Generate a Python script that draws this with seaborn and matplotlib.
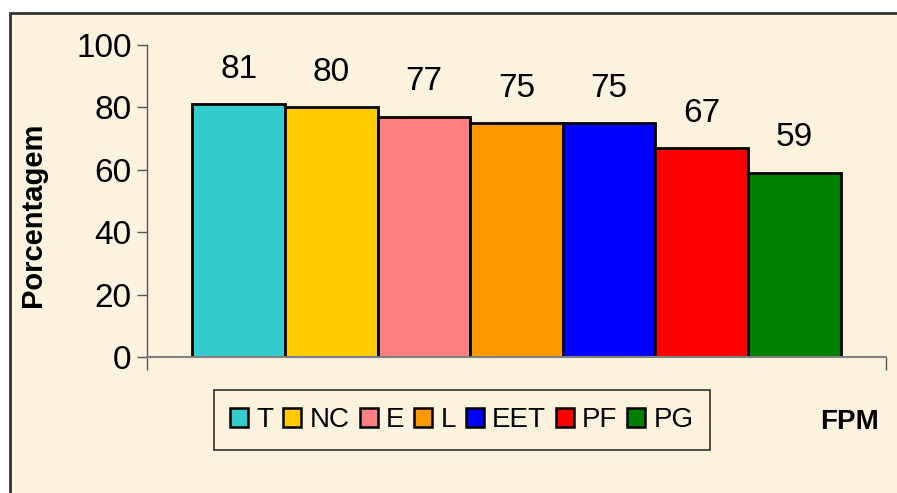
import matplotlib
matplotlib.use("Agg")
import matplotlib.pyplot as plt
from matplotlib.patches import Rectangle, Patch
import seaborn as sns

# dados
grupos = ["T", "NC", "E", "L", "EET", "PF", "PG"]
valores = [81, 80, 77, 75, 75, 67, 59]
cores = ["#33CCCC", "#FFCC00", "#FF8080", "#FF9900", "#0000FF", "#FF0000", "#008000"]
y_ticks = [0, 20, 40, 60, 80, 100]

sns.set_style("white")
plt.rcParams["font.family"] = ["Liberation Sans", "DejaVu Sans"]
plt.rcParams["text.color"] = "black"
plt.rcParams["axes.labelcolor"] = "black"
plt.rcParams["ytick.color"] = "black"
plt.rcParams["xtick.color"] = "black"

fundo = "#FCF2DE"

fig = plt.figure(figsize=(8.97, 4.93), dpi=100)
fig.patch.set_facecolor("white")
# moldura do grafico (cortada a direita e embaixo)
fig.patches.append(Rectangle((10 / 897, -0.02), 1.05, 1 - 13 / 493 + 0.02,
                             transform=fig.transFigure, facecolor=fundo,
                             edgecolor="#333333", linewidth=2, zorder=-10))

ax = fig.add_axes([147 / 897, 1 - 357 / 493, (886 - 147) / 897, (357 - 45) / 493])
ax.set_facecolor("none")

sns.barplot(x=grupos, y=valores, hue=grupos, palette=cores, width=1.0, saturation=1,
            edgecolor="black", linewidth=2, legend=False, ax=ax)

for c in ax.containers:
    ax.bar_label(c, fontsize=24, padding=14)

ax.set_xlim(-0.99, 6.99)
ax.set_ylim(0, 100)
ax.set_yticks(y_ticks)
ax.set_yticklabels([str(v) for v in y_ticks], fontsize=24)
ax.set_xticks([-0.99, 6.99])
ax.set_xticklabels(["", ""])
ax.tick_params(axis="y", direction="out", length=7, width=1, color="#555555", left=True, pad=4)
ax.tick_params(axis="x", direction="out", length=9, width=1, color="#555555", bottom=True)
ax.set_xlabel("")
ax.set_ylabel("Porcentagem", fontsize=21, fontweight="bold")
ax.yaxis.set_label_coords(-0.135, 0.457)

for s in ["top", "right"]:
    ax.spines[s].set_visible(False)
ax.spines["left"].set_color("#555555")
ax.spines["bottom"].set_color("#808080")
ax.spines["left"].set_linewidth(1)
ax.spines["bottom"].set_linewidth(1.5)

handles = [Patch(facecolor=c, edgecolor="black", linewidth=1.8) for c in cores]
leg = fig.legend(handles, grupos, loc="center", bbox_to_anchor=(462 / 897, 1 - 420 / 493),
                 ncol=7, frameon=True, fancybox=False, framealpha=1, fontsize=20,
                 facecolor=fundo, edgecolor="#333333", handlelength=0.65, handleheight=0.65,
                 handletextpad=0.3, columnspacing=0.35, borderpad=0.6)
leg.get_frame().set_linewidth(1.2)

fig.text(849 / 897, 1 - 422 / 493, "FPM", fontsize=20, fontweight="bold",
         ha="center", va="center")

fig.savefig("out.png", dpi=100)
